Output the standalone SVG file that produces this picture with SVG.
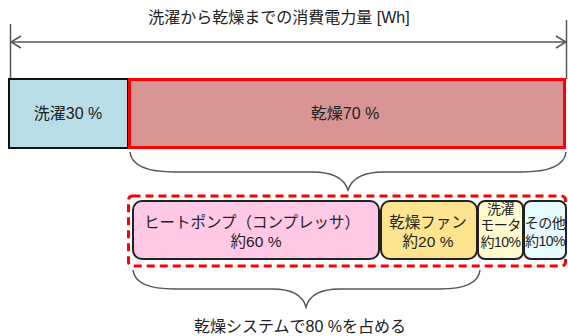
<svg xmlns="http://www.w3.org/2000/svg" width="568" height="336" viewBox="0 0 568 336">
<defs>
<style>
text{font-family:"Liberation Sans","Noto Sans CJK JP",sans-serif;fill:#222;text-anchor:middle}
.t16{font-size:16px}
.t15{font-size:15.5px}
.t13{font-size:14px;letter-spacing:-0.5px}
.line{fill:none;stroke:#555;stroke-width:1.5}
.node{stroke:#222;stroke-width:2}
</style>
<marker id="arr" markerWidth="12" markerHeight="14" refX="11" refY="7" orient="auto-start-reverse" markerUnits="userSpaceOnUse">
<path d="M1,1 L11,7 L1,13" fill="none" stroke="#555" stroke-width="1.5"/>
</marker>
</defs>
<rect width="568" height="336" fill="#fff"/>
<text id="title" class="t16" x="279" y="23">洗濯から乾燥までの消費電力量 [Wh]</text>
<g id="connectors">
<line class="line" x1="10.5" y1="24" x2="10.5" y2="79"/>
<line class="line" x1="566.5" y1="20" x2="566.5" y2="79"/>
<line class="line" x1="11" y1="42" x2="566" y2="42" marker-start="url(#arr)" marker-end="url(#arr)"/>
<path class="line" d="M130,152 Q132,172 175,172 H312 Q342,172 348,190 Q354,172 384,172 H521 Q564,172 566,152"/>
<path class="line" d="M133,270 Q135,289 175,289 H272 Q301,289 306,307 Q311,289 340,289 H440 Q478,289 480,270"/>
</g>
<g id="wash">
<rect x="9" y="79" width="119" height="69" fill="#b8dde6" stroke="#111" stroke-width="2"/>
<text class="t16" x="68" y="119">洗濯30 %</text>
</g>
<g id="dry">
<rect x="129.5" y="79.5" width="435" height="68" fill="#d99594" stroke="#f00" stroke-width="3"/>
<text class="t16" x="345" y="119">乾燥70 %</text>
</g>
<g id="dry-system">
<rect x="128.5" y="196" width="437" height="70" rx="4" fill="none" stroke="#f00" stroke-width="3" stroke-dasharray="8,5"/>
</g>
<g id="heatpump">
<rect class="node" x="133" y="201" width="246" height="58" rx="9" fill="#ffc8e4"/>
<text class="t15" x="252" y="228">ヒートポンプ（コンプレッサ）</text>
<text class="t15" x="256" y="247">約60 %</text>
</g>
<g id="fan">
<rect class="node" x="381" y="201" width="96" height="58" rx="9" fill="#fde58f"/>
<text class="t15" x="428" y="228">乾燥ファン</text>
<text class="t15" x="428" y="247">約20 %</text>
</g>
<g id="motor">
<rect class="node" x="478" y="201" width="45" height="58" rx="7" fill="#fffacd"/>
<text class="t13" x="500.5" y="214">洗濯</text>
<text class="t13" x="500.5" y="230">モータ</text>
<text class="t13" x="500.5" y="247">約10%</text>
</g>
<g id="other">
<rect class="node" x="524" y="201" width="42" height="58" rx="7" fill="#e6fbfd"/>
<text class="t13" x="545" y="228">その他</text>
<text class="t13" x="545" y="246">約10%</text>
</g>
<text id="caption" class="t16" x="300" y="332">乾燥システムで80 %を占める</text>
</svg>
